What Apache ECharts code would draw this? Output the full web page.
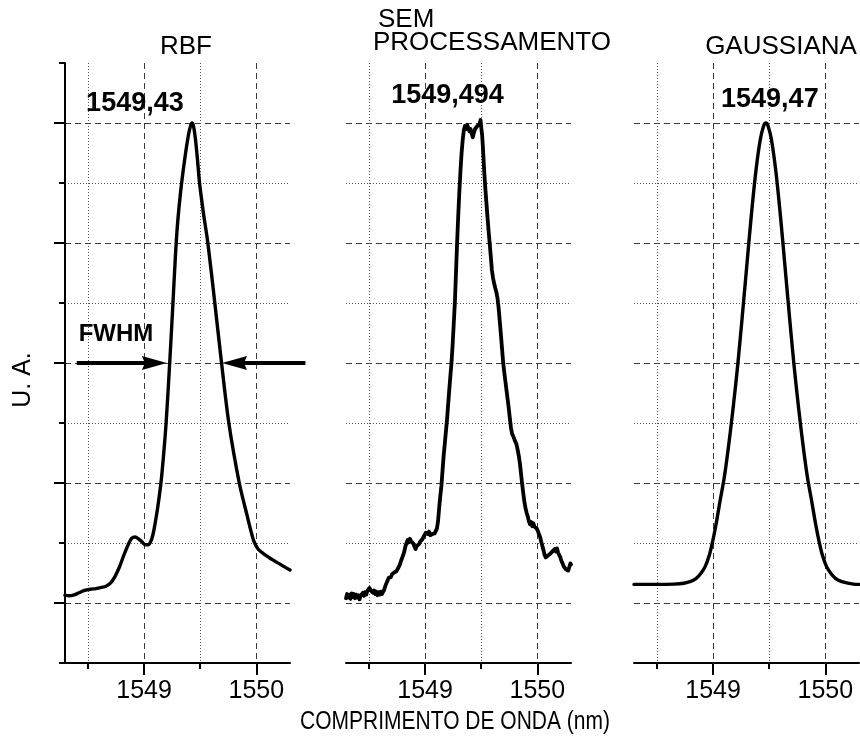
<!DOCTYPE html>
<html><head><meta charset="utf-8">
<script src="https://cdn.jsdelivr.net/npm/echarts@6/dist/echarts.min.js"></script>
<style>html,body{margin:0;padding:0;background:#fff}#c{width:860px;height:747px}</style>
</head><body><div id="c"></div>
<script>
// ---- data ----
const titleLines = [['RBF'], ['SEM', 'PROCESSAMENTO'], ['GAUSSIANA']];
const peakLabels = ['1549,43', '1549,494', '1549,47'];
const peakX = [1549.426, 1549.494, 1549.47];
const peakY = [9, 9.05, 9];
const xMajorTicks = [1549, 1550];
const xMinorTicks = [1548.5, 1549.5];
const yMajorTicks = [1, 3, 5, 7, 9];
const yMinorTicks = [0, 2, 4, 6, 8, 10];
const xRange = [1548.295, 1550.30];
const yRange = [0, 10];
const xAxisTitle = 'COMPRIMENTO DE ONDA (nm)';
const yAxisTitle = 'U. A.';
const fwhmText = 'FWHM';
const fwhmLevel = 5;
const fwhmLeftArrow = [1548.40, 1549.203];   // tail, tip
const fwhmRightArrow = [1550.4375, 1549.694]; // tail, tip

const rbf = [
 [1548.295,1.13],[1548.33,1.12],[1548.37,1.13],[1548.42,1.17],[1548.47,1.21],[1548.52,1.23],
 [1548.57,1.24],[1548.62,1.26],[1548.66,1.28],[1548.70,1.33],[1548.74,1.44],[1548.78,1.60],
 [1548.82,1.80],[1548.86,1.98],[1548.89,2.08],[1548.92,2.10],[1548.95,2.07],[1548.98,2.02],
 [1549.01,1.97],[1549.035,1.97],[1549.06,2.03],[1549.08,2.15],[1549.10,2.35],[1549.12,2.58],
 [1549.15,3.00],[1549.175,3.50],[1549.196,4.00],[1549.228,5.00],[1549.257,6.00],[1549.278,6.75],
 [1549.297,7.30],[1549.325,7.85],[1549.362,8.40],[1549.395,8.80],[1549.415,8.96],[1549.426,9.00],
 [1549.44,8.95],[1549.458,8.72],[1549.476,8.38],[1549.494,8.00],[1549.53,7.48],[1549.568,7.00],
 [1549.63,6.00],[1549.69,5.00],[1549.755,4.00],[1549.848,3.00],[1549.915,2.48],[1549.976,2.04],
 [1550.015,1.90],[1550.065,1.82],[1550.154,1.71],[1550.244,1.61],[1550.30,1.55]
];

const semProc = [
 [1548.295,1.08],[1548.305,1.15],[1548.315,1.09],[1548.325,1.14],[1548.335,1.07],[1548.345,1.16],
 [1548.355,1.10],[1548.365,1.15],[1548.375,1.08],[1548.385,1.14],[1548.395,1.09],[1548.405,1.13],
 [1548.415,1.06],[1548.425,1.12],[1548.435,1.10],[1548.445,1.17],[1548.455,1.12],[1548.465,1.18],
 [1548.475,1.14],[1548.485,1.20],[1548.495,1.19],[1548.505,1.25],[1548.515,1.21],[1548.525,1.23],
 [1548.535,1.17],[1548.545,1.21],[1548.555,1.15],[1548.565,1.19],[1548.575,1.13],[1548.585,1.18],
 [1548.595,1.14],[1548.605,1.19],[1548.615,1.15],[1548.625,1.17],[1548.635,1.22],[1548.645,1.28],
 [1548.655,1.33],[1548.665,1.37],[1548.675,1.42],[1548.685,1.45],[1548.695,1.43],[1548.705,1.48],
 [1548.715,1.46],[1548.725,1.51],[1548.735,1.49],[1548.745,1.53],[1548.755,1.55],[1548.765,1.60],
 [1548.775,1.64],[1548.785,1.70],[1548.795,1.73],[1548.805,1.80],[1548.815,1.86],[1548.825,1.95],
 [1548.835,2.00],[1548.845,2.05],[1548.855,2.01],[1548.865,2.07],[1548.875,2.03],[1548.885,2.06],
 [1548.895,1.99],[1548.905,1.94],[1548.915,1.90],[1548.925,1.95],[1548.935,1.92],[1548.945,1.98],
 [1548.955,2.02],[1548.965,2.00],[1548.975,2.06],[1548.985,2.10],[1548.995,2.13],[1549.005,2.17],
 [1549.015,2.20],[1549.025,2.15],[1549.035,2.19],[1549.045,2.13],[1549.055,2.11],[1549.065,2.15],
 [1549.075,2.12],[1549.085,2.16],[1549.095,2.18],[1549.105,2.24],[1549.115,2.36],[1549.125,2.58],
 [1549.135,2.78],[1549.145,2.95],[1549.155,3.20],[1549.165,3.45],[1549.175,3.65],[1549.185,3.85],
 [1549.195,4.05],[1549.205,4.30],[1549.215,4.55],[1549.225,4.78],[1549.235,5.00],[1549.245,5.30],
 [1549.255,5.65],[1549.265,6.00],[1549.275,6.50],[1549.285,7.00],[1549.295,7.45],[1549.305,7.85],
 [1549.315,8.20],[1549.325,8.50],[1549.335,8.72],[1549.345,8.88],[1549.355,8.95],[1549.365,8.90],
 [1549.375,8.97],[1549.385,8.92],[1549.395,8.86],[1549.405,8.90],[1549.415,8.82],[1549.425,8.76],
 [1549.435,8.84],[1549.445,8.90],[1549.455,8.87],[1549.465,8.95],[1549.475,8.92],[1549.485,8.98],
 [1549.494,9.05],[1549.500,8.93],[1549.508,8.80],[1549.515,8.60],[1549.525,8.25],[1549.535,7.95],
 [1549.545,7.70],[1549.555,7.45],[1549.565,7.22],[1549.575,7.00],[1549.585,6.78],[1549.595,6.55],
 [1549.605,6.42],[1549.615,6.33],[1549.625,6.25],[1549.635,6.18],[1549.645,6.08],[1549.655,5.92],
 [1549.665,5.70],[1549.675,5.48],[1549.685,5.25],[1549.695,5.02],[1549.705,4.85],[1549.715,4.70],
 [1549.725,4.55],[1549.735,4.40],[1549.745,4.25],[1549.755,4.08],[1549.765,3.92],[1549.775,3.82],
 [1549.785,3.78],[1549.795,3.73],[1549.805,3.70],[1549.815,3.64],[1549.825,3.55],[1549.835,3.45],
 [1549.845,3.32],[1549.855,3.15],[1549.865,2.98],[1549.875,2.82],[1549.885,2.68],[1549.895,2.58],
 [1549.905,2.50],[1549.915,2.44],[1549.925,2.36],[1549.935,2.31],[1549.945,2.35],[1549.955,2.28],
 [1549.965,2.33],[1549.975,2.27],[1549.985,2.30],[1549.995,2.24],[1550.005,2.20],[1550.015,2.14],
 [1550.025,2.10],[1550.035,2.02],[1550.045,1.95],[1550.055,1.88],[1550.065,1.80],[1550.075,1.76],
 [1550.085,1.74],[1550.095,1.79],[1550.105,1.76],[1550.115,1.82],[1550.125,1.80],[1550.135,1.86],
 [1550.145,1.84],[1550.155,1.90],[1550.165,1.86],[1550.175,1.91],[1550.185,1.84],[1550.195,1.80],
 [1550.205,1.76],[1550.215,1.70],[1550.225,1.66],[1550.235,1.61],[1550.245,1.58],[1550.255,1.56],
 [1550.265,1.59],[1550.275,1.54],[1550.285,1.60],[1550.295,1.66],[1550.300,1.64]
];

const gauss = [
 [1548.295,1.31],[1548.50,1.31],[1548.65,1.315],[1548.74,1.33],[1548.80,1.36],[1548.85,1.41],
 [1548.89,1.49],[1548.93,1.61],[1548.965,1.79],[1548.995,2.02],[1549.025,2.30],[1549.06,2.68],
 [1549.10,3.10],[1549.14,3.65],[1549.18,4.28],[1549.22,4.98],[1549.26,5.78],[1549.30,6.62],
 [1549.34,7.45],[1549.38,8.18],[1549.42,8.72],[1549.45,8.95],[1549.47,9.00],[1549.49,8.95],
 [1549.52,8.72],[1549.56,8.18],[1549.60,7.45],[1549.64,6.62],[1549.68,5.78],[1549.72,4.98],
 [1549.76,4.28],[1549.80,3.65],[1549.84,3.10],[1549.88,2.68],[1549.915,2.30],[1549.945,2.02],
 [1549.975,1.79],[1550.01,1.61],[1550.05,1.49],[1550.09,1.41],[1550.14,1.36],[1550.20,1.33],
 [1550.25,1.315],[1550.30,1.31]
];

// ---- chart ----
const FONT = 'Liberation Sans, Arial, Helvetica, sans-serif';
const seriesData = [rbf, semProc, gauss];
const smoothness = [0.3, false, 0.3];
const gridLefts = [65, 346, 634];
const GRID_TOP = 63, GRID_W = 225, GRID_H = 600;
const DASH = { color: '#3a3a3a', width: 1, type: [6, 4] };
const DOT = '#555';

const chart = echarts.init(document.getElementById('c'), null, { renderer: 'canvas' });

const grids = [], xAxes = [], yAxes = [], series = [];
gridLefts.forEach((l, i) => {
  grids.push({ left: l, top: GRID_TOP, width: GRID_W, height: GRID_H, containLabel: false, outerBoundsMode: 'none' });
  xAxes.push({
    type: 'value', gridIndex: i, min: xRange[0], max: xRange[1], position: 'bottom',
    axisLine: { show: true, onZero: false, lineStyle: { color: '#000', width: 2 } },
    axisTick: { show: true, customValues: xMajorTicks, length: 12, inside: false, lineStyle: { color: '#000', width: 2 } },
    axisLabel: { show: true, customValues: xMajorTicks, formatter: v => String(Math.round(v)), margin: 16,
      color: '#000', fontSize: 25, fontFamily: FONT },
    splitLine: { show: true, lineStyle: DASH },
    minorTick: { show: false }, minorSplitLine: { show: false }
  });
  xAxes.push({
    type: 'value', gridIndex: i, min: xRange[0], max: xRange[1], position: 'top', offset: -GRID_H,
    axisLine: { show: false },
    axisTick: { show: true, customValues: xMinorTicks, length: 6, inside: true, lineStyle: { color: '#000', width: 2 } },
    axisLabel: { show: false },
    splitLine: { show: true, lineStyle: { color: DOT, width: 1, type: [1, 2] } }
  });
  yAxes.push({
    type: 'value', gridIndex: i, min: yRange[0], max: yRange[1], position: 'left',
    axisLine: { show: i === 0, onZero: false, lineStyle: { color: '#000', width: 2 } },
    axisTick: { show: i === 0, customValues: yMajorTicks, length: 11, inside: false, lineStyle: { color: '#000', width: 2 } },
    axisLabel: { show: false },
    splitLine: { show: true, lineStyle: DASH }
  });
  yAxes.push({
    type: 'value', gridIndex: i, min: yRange[0], max: yRange[1], position: 'right', offset: -GRID_W,
    axisLine: { show: false },
    axisTick: { show: i === 0, customValues: yMinorTicks, length: 6, inside: true, lineStyle: { color: '#000', width: 2 } },
    axisLabel: { show: false },
    splitLine: { show: true, lineStyle: { color: ['rgba(0,0,0,0)', DOT, DOT, DOT, DOT, 'rgba(0,0,0,0)'], width: 1, type: [1, 2] } }
  });
  series.push({
    type: 'line', xAxisIndex: 2 * i, yAxisIndex: 2 * i, data: seriesData[i],
    showSymbol: false, symbol: 'none', smooth: smoothness[i], silent: true,
    lineStyle: { color: '#000', width: i === 1 ? 3.8 : 3.4, join: 'round', cap: 'round' }, z: 5
  });
});

chart.setOption({
  animation: false,
  backgroundColor: '#fff',
  grid: grids, xAxis: xAxes, yAxis: yAxes, series: series
});

// annotations, positioned through the chart's own scales
const px = (si, x, y) => chart.convertToPixel({ seriesIndex: si }, [x, y]);
const graphics = [];
const txt = (text, x, y, size, bold, align, extra) => Object.assign({
  type: 'text', x: x, y: y, z: 20, silent: true,
  style: { text: text, fill: '#000', font: (bold ? 'bold ' : '') + size + 'px ' + FONT,
           textAlign: align || 'center', textVerticalAlign: 'middle' }
}, extra || {});

// panel titles
graphics.push(txt(titleLines[0][0], 186, 47, 26, false));
graphics.push(txt(titleLines[1][0], 378, 20, 26, false, 'left'));
graphics.push(txt(titleLines[1][1], 373, 43, 26, false, 'left'));
graphics.push(txt(titleLines[2][0], 781, 47, 26, false));

// peak labels
const labelOffsets = [[-57, -19], [-33, -24], [4, -23]];
peakX.forEach((x, i) => {
  const p = px(i, x, peakY[i]);
  graphics.push(txt(peakLabels[i], p[0] + labelOffsets[i][0], p[1] + labelOffsets[i][1], 27, true));
});

// FWHM arrows
function arrow(tailX, tipX) {
  const a = px(0, tailX, fwhmLevel), b = px(0, tipX, fwhmLevel);
  const dir = b[0] > a[0] ? 1 : -1;
  const L = 25, H = 7, N = 3;
  graphics.push({ type: 'line', z: 15, silent: true,
    shape: { x1: a[0], y1: a[1], x2: b[0] - dir * (L - 4), y2: b[1] },
    style: { stroke: '#000', lineWidth: 4 } });
  graphics.push({ type: 'polygon', z: 15, silent: true,
    shape: { points: [[b[0], b[1]], [b[0] - dir * L, b[1] - H], [b[0] - dir * (L - N), b[1]], [b[0] - dir * L, b[1] + H]] },
    style: { fill: '#000' } });
}
arrow(fwhmLeftArrow[0], fwhmLeftArrow[1]);
arrow(fwhmRightArrow[0], fwhmRightArrow[1]);
graphics.push(txt(fwhmText, 116, 334, 24, true));

// axis titles
graphics.push(txt(yAxisTitle, 23, 380, 25, false, 'center', { rotation: Math.PI / 2 }));
graphics.push(txt(xAxisTitle, 455, 722, 25, false, 'center', { scaleX: 0.84 }));

chart.setOption({ graphic: { elements: graphics } });
</script>
</body></html>
